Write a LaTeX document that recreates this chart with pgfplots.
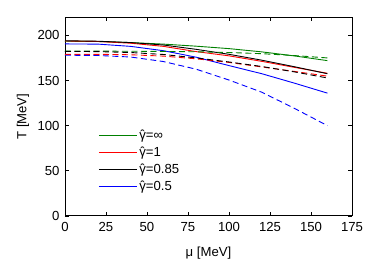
\documentclass[border=0pt]{standalone}
\usepackage{pgfplots}
\pgfplotsset{compat=1.18}
\usepackage{fontspec}
\setmainfont{Liberation Sans}
\definecolor{cgreen}{RGB}{0,128,0}
\definecolor{cred}{RGB}{255,0,0}
\definecolor{cblue}{RGB}{0,0,255}
\newsavebox\ghbox
\newcommand{\gh}{\sbox\ghbox{γ}\rlap{\hbox to \wd\ghbox{\hss ˆ\hss}}\usebox\ghbox}
\begin{document}
\begin{tikzpicture}[font=\fontsize{13.2}{16}\selectfont]
\begin{axis}[
  scale only axis, width=287bp, height=198.6bp,
  xmin=0, xmax=175, ymin=0, ymax=220,
  xtick={0,25,...,175}, ytick={0,50,...,200},
  tick align=inside, major tick length=4bp,
  axis line style={line width=0.8bp},
  every tick/.style={line width=0.6bp, black},
  /pgf/number format/assume math mode=true,
  xticklabel style={yshift=-3bp},
  yticklabel style={xshift=-2bp},
  xlabel={μ [MeV]}, ylabel={T [MeV]},
  xlabel style={at={(axis description cs:0.5,-0.1853)}, anchor=center},
  ylabel style={at={(axis description cs:-0.146,0.5)}, anchor=center},
  legend style={draw=none, fill=none, at={(axis description cs:0.105,0.458)}, anchor=north west,
    row sep=0.2bp, nodes={inner sep=2bp, text height=10bp, text depth=3bp, anchor=west}},
  legend cell align=left,
  legend image code/.code={\draw[#1, line width=1bp] (0bp,0.5bp) -- (38bp,0.5bp);},
  every axis plot/.append style={line width=0.9bp},
  clip=false,
]
\addplot[cgreen] coordinates {(0,193.5)(20,193.2)(40,192)(60,190.3)(80,188)(100,185.3)(120,181.7)(140,177.2)(160,172)};
\addlegendentry{\gh=∞}
\addplot[cred] coordinates {(0,193.8)(20,193.2)(40,191.3)(60,187.8)(80,182)(100,177.3)(120,171.2)(140,164.5)(160,158)};
\addlegendentry{\gh=1}
\addplot[black] coordinates {(0,194)(20,193.5)(40,192)(60,189.3)(80,184.5)(100,179)(120,172.5)(140,165.2)(160,157.5)};
\addlegendentry{\gh=0.85}
\addplot[cblue] coordinates {(0,190.5)(20,190.3)(40,187.8)(60,183)(80,175.8)(100,166.5)(120,157.5)(140,147)(160,136)};
\addlegendentry{\gh=0.5}
\addplot[cgreen, dash pattern=on 6bp off 3.5bp, forget plot] coordinates {(0,182.5)(20,182.5)(40,182.4)(60,182.2)(80,181.8)(100,181)(120,179.7)(140,177.6)(160,175)};
\addplot[cred, dash pattern=on 6bp off 3.5bp, forget plot] coordinates {(0,179)(20,179)(40,178.5)(60,177)(80,174)(100,170)(120,165)(140,160)(160,154.8)};
\addplot[black, dash pattern=on 6bp off 3.5bp, forget plot] coordinates {(0,182.2)(20,182)(40,181)(60,178.8)(80,175)(100,170.5)(120,165.5)(140,159.5)(160,152.8)};
\addplot[cblue, dash pattern=on 6bp off 3.5bp, forget plot] coordinates {(0,178)(20,177.7)(40,176)(60,171)(80,162.5)(100,150.5)(120,137)(140,119)(160,100)};
\coordinate (ll) at (rel axis cs:0,0);
\coordinate (ur) at (rel axis cs:1,1);
\end{axis}
\path ([shift={(-65bp,-46.1bp)}]ll) rectangle ([shift={(22bp,17.3bp)}]ur);
\end{tikzpicture}
\end{document}
